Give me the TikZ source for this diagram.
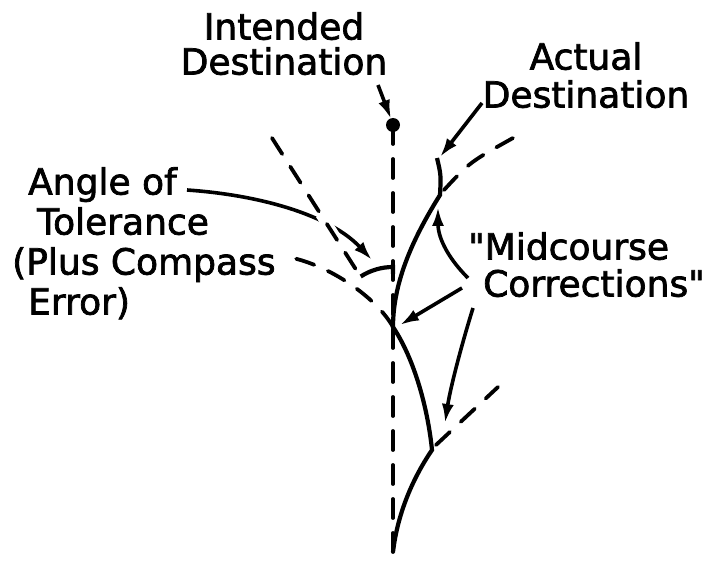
\documentclass[tikz,border=0pt]{standalone}
\usepackage{fontspec}
\setmainfont{DejaVu Sans}[FakeBold=2]
\usetikzlibrary{arrows.meta}

\begin{document}
\begin{tikzpicture}[x=1pt, y=-1pt,
        course/.style={line width=4.2pt},
        guide/.style={line width=3.8pt, dash pattern=on 19pt off 15pt, line cap=round},
        pointer/.style={line width=3.6pt, -{Latex[length=19pt, width=12pt]}},
        lbl/.style={inner sep=0pt, font=\fontsize{36}{38}\selectfont}]
        \useasboundingbox (0,0) rectangle (716,567);

        \coordinate (dest) at (393,125);
        \coordinate (base) at (393,563);
        \coordinate (s) at (393,552);
        \coordinate (m) at (393,327);
        \coordinate (k1) at (432,450);
        \coordinate (k2) at (440,195);
        \coordinate (act) at (437,158);
        \coordinate (e1) at (498,387);
        \coordinate (e2) at (513,138);
        \coordinate (e3) at (293,258);
        \coordinate (tl) at (272,138);
        \coordinate (th) at (362,279);
        \coordinate (a1) at (360.7,276.5);
        \coordinate (a2) at (393,267);

        % labels
        \node[lbl, anchor=north, align=center] (intended) at (284,12) {Intended\\[-3pt]Destination};
        \node[lbl, anchor=north, align=center] (actual) at (586,42) {Actual\\Destination};
        \node[lbl, anchor=north west, align=left] (mid) at (468,232) {\textquotedbl Midcourse\\[-1pt]\hspace*{15pt}Corrections\textquotedbl};
        \node[lbl, anchor=north west, align=left] (tol) at (12,167) {\hspace*{16pt}Angle of\\[2pt]\hspace*{25pt}Tolerance\\[2pt](Plus Compass\\[2pt]\hspace*{16pt}Error)};

        % intended course and target
        \draw[guide] (dest) -- (base);
        \fill (dest) circle (7pt);

        % course actually flown
        \draw[course, line join=miter] (s) .. controls (398,510) and (415,475) .. (k1)
            .. controls (428,410) and (415,360) .. (m)
            .. controls (393,280) and (415,235) .. (k2)
            .. controls (441,175) .. (act);
        \draw[guide] (436,445) -- (e1);
        \draw[guide] (444,190) .. controls (470,162) .. (e2);
        \draw[guide] (m) .. controls (378,300) and (335,268) .. (e3);

        % angle of tolerance
        \draw[course] (a1) .. controls (370.3,270.3) and (381.5,267) .. (a2) -- (393,274);

        % pointers
        \coordinate (p1) at (378,85);
        \coordinate (q1) at (391,119);
        \coordinate (p2) at (482,103);
        \coordinate (q2) at (440,157);
        \coordinate (p3) at (187,190);
        \coordinate (q3) at (372,260);
        \coordinate (p4) at (468,278);
        \coordinate (q4) at (438,207);
        \coordinate (p5) at (462,288);
        \coordinate (q5) at (400,325);
        \coordinate (p6) at (473,308);
        \coordinate (q6) at (445,423);

        \draw[pointer] (p1) -- (q1);
        \draw[pointer] (p2) -- (q2);
        \draw[pointer] (p3) .. controls (260,195) and (330,215) .. (q3);
        \draw[white, line width=11pt] (320.6,214) -- (336,238);
        \draw[guide] (tl) -- (th);
        \draw[pointer] (p4) .. controls (445,255) and (438,235) .. (q4);
        \draw[pointer] (p5) -- (q5);
        \draw[pointer] (p6) .. controls (460,350) and (450,390) .. (q6);
\end{tikzpicture}
\end{document}
